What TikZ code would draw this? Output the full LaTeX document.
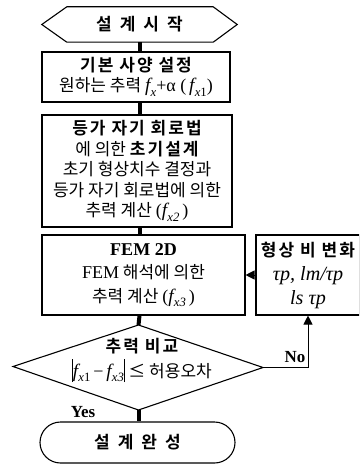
\documentclass[tikz,border=0pt]{standalone}
\usepackage{fontspec}
\setmainfont{Noto Sans CJK KR}[BoldFont={Noto Sans CJK KR Bold}]
\newfontfamily\tm{Liberation Serif}[Scale=1.06]
\newfontfamily\krb{Noto Sans CJK KR Bold}[LetterSpace=12]
\usetikzlibrary{shapes.misc,arrows.meta,calc}
\newcommand\fx[1]{{\tm\itshape\fontsize{18}{18}\selectfont f\kern0.3pt\raisebox{-0.25em}{\fontsize{12}{12}\selectfont x#1}}}
\newcommand\absbar{\vrule height 1.05em depth 0.3em width 0.7pt}
\begin{document}
\begin{tikzpicture}[x=1pt,y=-1pt,
  box/.style={draw,line width=1.1pt,align=center,inner sep=0pt,
    font=\fontsize{17}{20.5}\selectfont},
  txt/.style={align=center,inner sep=0pt,font=\fontsize{17}{20.5}\selectfont},
  conn/.style={line width=4pt},
  arr/.style={line width=1pt,-{Triangle[length=9pt,width=9pt]}},
  shp/.style={line width=1.1pt}]
\useasboundingbox (0,0) rectangle (359,465);
\clip (0,0) rectangle (359,465);
\coordinate (spine) at (139.5,0);

% start hexagon
\node[txt,minimum width=195pt,minimum height=35pt] (start) at (139.5,24.5)
  {\krb 설\hspace{8pt}계\hspace{8pt}시\hspace{8pt}작};
\draw[shp] (start.west) -- ($(start.north west)+(25,0)$) -- ($(start.north east)+(-24,0)$)
  -- (start.east) -- ($(start.south east)+(-24,0)$) -- ($(start.south west)+(25,0)$) -- cycle;

% box 1
\node[box,minimum width=188pt,minimum height=50pt] (b1) at (136,77)
  {{\krb 기본 사양 설정}\\원하는 추력 \fx{}{\tm +α (}\,\fx{\upshape 1}{\tm )}};

% box 2
\node[box,minimum width=190pt,minimum height=112pt] (b2) at (137,171)
  {{\krb 등가 자기 회로법}\\에 의한 {\krb 초기설계}\\초기 형상치수 결정과\\등가 자기 회로법에 의한\\추력 계산 {\tm (}\fx{2}{\tm\,)}};

% box 3 FEM
\node[box,minimum width=203pt,minimum height=80pt,
  font=\fontsize{17}{23.5}\selectfont] (b3) at (143.5,275)
  {{\tm\bfseries FEM 2D}\\{\tm FEM} 해석에 의한\\추력 계산 {\tm (}\fx{3}{\tm\,)}};

% right box
\node[box,minimum width=104pt,minimum height=80pt,
  font=\fontsize{17}{24}\selectfont] (shape) at (308,275)
  {{\krb 형상 비 변화}\\{\tm\itshape\fontsize{19}{24}\selectfont τp,\ lm/τp}\\{\tm\itshape\fontsize{19}{24}\selectfont ls τp}};

% decision diamond
\coordinate (dT) at (138.5,325);
\coordinate (dB) at (138.5,410);
\coordinate (dL) at (13,366.5);
\coordinate (dR) at (263,367.5);
\draw[shp] (dT) -- (dR) -- (dB) -- (dL) -- cycle;
\node[txt,font=\fontsize{17}{25}\selectfont] (cmp) at (142,360)
  {{\krb 추력 비교}\\\absbar\fx{\upshape 1}\,{\tm −}\,\fx{3}\absbar\ ≤ 허용오차};

% end terminal
\node[draw,line width=1.1pt,rounded rectangle,minimum width=195pt,minimum height=41pt,
  inner sep=0pt,font=\fontsize{17}{20}\selectfont] (end) at (137.5,442.5)
  {\krb 설\hspace{8pt}계\hspace{8pt}완\hspace{8pt}성};

% connectors
\draw[conn] (start.south -| spine) -- (b1.north -| spine);
\draw[conn] (b1.south -| spine) -- (b2.north -| spine);
\draw[conn] (b2.south -| spine) -- (b3.north -| spine);
\draw[conn] (b3.south -| spine) -- (dT);
\draw[conn] (dB) -- (end.north -| dB);
\draw[arr] (shape.west) -- (b3.east);
\draw[arr] (dR) -| (shape.south);

\node[txt,font=\fontsize{16}{16}\selectfont\tm\bfseries] (yes) at (83,412) {Yes};
\node[txt,font=\fontsize{16}{16}\selectfont\tm\bfseries] (no) at (295,357) {No};
\end{tikzpicture}
\end{document}
